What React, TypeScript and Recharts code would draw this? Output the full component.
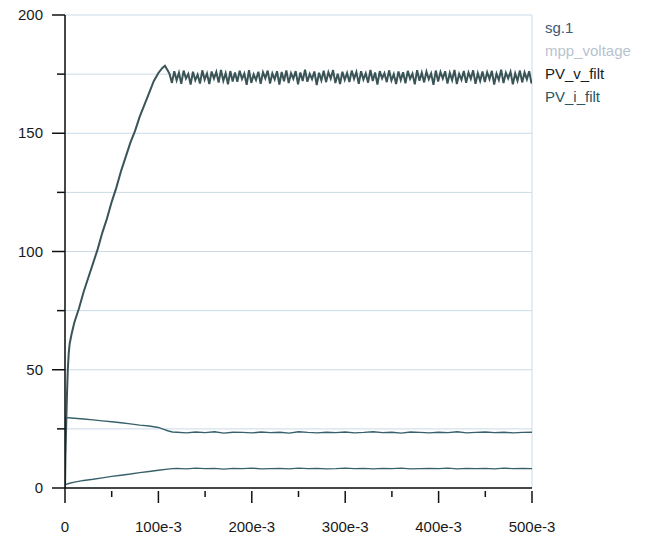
import React from "react";
import { LineChart, Line, XAxis, YAxis, CartesianGrid } from "recharts";

// time in ms
const voltRiseT = [0, 0.5, 1, 2, 3, 4, 5, 7, 10, 15, 20, 25, 30, 35, 40, 45, 50, 55, 60, 65, 70, 75, 80, 85, 90, 95, 100, 104, 107, 110];
const voltRise = [0, 14, 22, 38, 50, 57, 61, 65, 70, 76, 83, 89, 95, 101, 108, 114, 121, 127, 134, 140, 146, 151, 157, 162, 167, 172, 175.5, 177.5, 178.5, 176.5];

// ripple after the ramp, one sample every 2.5 ms from 112 ms
const voltBandStart = 112;
const voltBandStep = 2.5;
const voltBand = [
  175.0, 171.3, 176.2, 172.4, 175.6, 170.9, 176.5, 173.1, 175.1, 170.6,
  176.0, 172.4, 174.8, 171.0, 176.6, 172.7, 175.3, 170.8, 176.1, 173.1,
  175.9, 171.4, 176.8, 172.2, 175.4, 170.7, 176.3, 171.9, 175.7, 171.8,
  176.4, 172.9, 175.2, 170.5, 176.7, 171.3, 174.9, 172.5, 176.0, 170.9,
  175.8, 173.2, 176.5, 171.0, 175.3, 172.8, 176.2, 170.6, 175.9, 172.0,
  176.6, 171.2, 175.4, 173.0, 176.3, 170.7, 175.7, 172.1, 176.9, 171.8,
  175.1, 172.9, 176.1, 170.4, 175.6, 172.3, 176.4, 171.6, 175.8, 173.1,
  176.7, 171.2, 175.2, 170.8, 176.0, 172.6, 175.5, 171.7, 176.5, 173.0,
  175.9, 170.9, 176.2, 172.7, 175.3, 171.4, 176.8, 172.1, 175.7, 170.6,
  176.3, 173.2, 175.4, 171.6, 176.6, 172.3, 175.0, 170.8, 176.1, 172.5,
  175.8, 171.1, 176.4, 173.0, 175.2, 170.7, 176.7, 172.2, 175.6, 171.5,
  176.0, 172.8, 175.3, 170.5, 176.5, 171.9, 175.9, 173.1, 176.2, 171.0,
  175.5, 172.4, 176.8, 170.8, 175.1, 172.6, 176.3, 171.3, 175.7, 173.0,
  176.6, 170.9, 175.4, 172.1, 176.1, 171.7, 175.8, 172.9, 176.4, 170.6,
  175.2, 172.5, 176.9, 171.2, 175.6, 173.2, 176.0, 170.7, 175.3, 172.2,
  176.5, 171.5, 175.7, 172.8, 176.2, 171.0,
];

const sgT = [0, 0.4, 10, 20, 30, 40, 50, 60, 70, 80, 90, 100, 105, 110, 115];
const sgV = [0, 29.8, 29.5, 29.2, 28.8, 28.4, 28.0, 27.6, 27.1, 26.6, 26.2, 25.6, 24.9, 24.2, 23.7];

const curT = [0, 0.4, 5, 10, 20, 30, 40, 50, 60, 70, 80, 90, 100, 110, 115];
const curV = [0, 1.4, 2.0, 2.5, 3.2, 3.7, 4.3, 4.9, 5.4, 5.9, 6.5, 7.0, 7.5, 8.0, 8.2];

// flat parts, one sample every 10 ms from 120 ms
const flatStart = 120;
const flatStep = 10;
const sgFlat = [
  23.6, 23.3, 23.7, 23.4, 23.8, 23.2, 23.6, 23.5, 23.3, 23.7, 23.4, 23.6, 23.2,
  23.8, 23.5, 23.3, 23.6, 23.4, 23.7, 23.3, 23.5, 23.8, 23.4, 23.6, 23.2, 23.7,
  23.5, 23.3, 23.6, 23.4, 23.8, 23.3, 23.5, 23.7, 23.4, 23.6, 23.3, 23.5, 23.6,
];
const curFlat = [
  8.3, 8.1, 8.4, 8.2, 8.3, 8.0, 8.3, 8.2, 8.4, 8.1, 8.2, 8.3, 8.1,
  8.4, 8.2, 8.3, 8.1, 8.2, 8.4, 8.2, 8.3, 8.1, 8.3, 8.2, 8.4, 8.1,
  8.2, 8.3, 8.2, 8.4, 8.1, 8.3, 8.2, 8.3, 8.1, 8.4, 8.2, 8.3, 8.2,
];

const yTicks = [0, 25, 50, 75, 100, 125, 150, 175, 200];
const yTickLabels = ["0", "", "50", "", "100", "", "150", "", "200"];
const xTicks = [0, 50, 100, 150, 200, 250, 300, 350, 400, 450, 500];
const xTickLabels = ["0", "", "100e-3", "", "200e-3", "", "300e-3", "", "400e-3", "", "500e-3"];
const xGridTicks = [100, 200, 300, 400, 500];

const legendNames = ["sg.1", "mpp_voltage", "PV_v_filt", "PV_i_filt"];
const legendColors = ["#3b5877", "#b7c3cf", "#142222", "#245664"];

const FONT = '"Liberation Sans", Arial, sans-serif';

function points(ts: number[], vs: number[], start?: number, step?: number, rest?: number[]) {
  const out = ts.map((t, i) => ({ t, v: vs[i] }));
  if (rest && start !== undefined && step !== undefined) {
    rest.forEach((v, i) => out.push({ t: start + i * step, v }));
  }
  return out;
}

const voltData = points(voltRiseT, voltRise, voltBandStart, voltBandStep, voltBand);
const sgData = points(sgT, sgV, flatStart, flatStep, sgFlat);
const curData = points(curT, curV, flatStart, flatStep, curFlat);

const YTick = (props: any) => {
  const { x, y, payload } = props;
  const i = yTicks.indexOf(payload.value);
  const major = payload.value % 50 === 0;
  return (
    <g>
      <line x1={x - (major ? 13 : 8)} x2={x} y1={y} y2={y} stroke="#111" strokeWidth={1.5} />
      {major && (
        <text x={x - 22} y={y} dy={5} textAnchor="end" fill="#1a1a1a" fontSize={15} fontFamily={FONT}>
          {yTickLabels[i]}
        </text>
      )}
    </g>
  );
};

const XTick = (props: any) => {
  const { x, y, payload } = props;
  const i = xTicks.indexOf(payload.value);
  const major = payload.value % 100 === 0;
  return (
    <g>
      <line x1={x} x2={x} y1={payload.value === 0 ? y : y + 3} y2={y + (major ? 15 : 9)} stroke="#111" strokeWidth={1.5} />
      {major && (
        <text x={x} y={y + 44} textAnchor="middle" fill="#1a1a1a" fontSize={15} fontFamily={FONT}>
          {xTickLabels[i]}
        </text>
      )}
    </g>
  );
};

export default function App() {
  return (
    <div style={{ position: "absolute", left: 0, top: 0, width: 651, height: 540, overflow: "hidden", background: "#fff" }}>
      <LineChart width={651} height={540} margin={{ top: 15, right: 119, left: 0, bottom: 0 }}>
        <CartesianGrid xAxisId="g" stroke="#c9dbe8" strokeWidth={1} />
        <XAxis
          dataKey="t"
          type="number"
          domain={[0, 500]}
          ticks={xTicks}
          tick={<XTick />}
          tickSize={0}
          tickMargin={0}
          tickLine={false}
          axisLine={{ stroke: "#111", strokeWidth: 1.5 }}
          height={52}
          interval={0}
          allowDataOverflow
        />
        <XAxis xAxisId="g" dataKey="t" type="number" domain={[0, 500]} ticks={xGridTicks} hide />
        <YAxis
          type="number"
          domain={[0, 200]}
          ticks={yTicks}
          tick={<YTick />}
          tickSize={0}
          tickMargin={0}
          tickLine={false}
          axisLine={{ stroke: "#111", strokeWidth: 1.5 }}
          width={65}
          interval={0}
        />
        <Line data={voltData} dataKey="v" name="PV_v_filt" stroke="#3a5457" strokeWidth={2} dot={false} isAnimationActive={false} />
        <Line data={sgData} dataKey="v" name="sg.1" stroke="#37616b" strokeWidth={1.4} dot={false} isAnimationActive={false} />
        <Line data={curData} dataKey="v" name="PV_i_filt" stroke="#37616b" strokeWidth={1.4} dot={false} isAnimationActive={false} />
      </LineChart>
      <div style={{ position: "absolute", left: 545, top: 16, fontFamily: FONT, fontSize: 15, lineHeight: "23px", whiteSpace: "nowrap" }}>
        {legendNames.map((n, i) => (
          <div key={n} style={{ color: legendColors[i] }}>
            {n}
          </div>
        ))}
      </div>
    </div>
  );
}
